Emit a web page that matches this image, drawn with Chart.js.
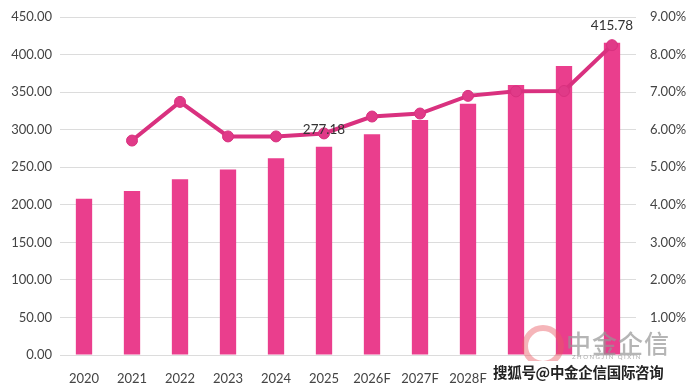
<!DOCTYPE html>
<html><head><meta charset="utf-8">
<script src="https://cdn.jsdelivr.net/npm/chart.js@4/dist/chart.umd.min.js"></script>
<style>
html,body{margin:0;padding:0;background:#fff;}
#wrap{position:relative;width:690px;height:388px;}
#c{position:absolute;left:0;top:0;}
.wm{position:absolute;font-family:"Noto Sans CJK SC",sans-serif;white-space:nowrap;}
</style></head>
<body><div id="wrap"><canvas id="c" width="690" height="388"></canvas>
<div class="wm" style="left:522px;top:325px;width:30px;height:30px;border-radius:50%;border:6px solid rgba(232,90,100,0.45);"></div>
<div class="wm" style="left:566px;top:324px;font-size:25px;color:rgba(150,150,150,0.7);font-weight:500;letter-spacing:1px;">中金企信</div>
<div class="wm" style="left:572px;top:353px;font-size:6px;color:rgba(150,150,150,0.8);font-family:Lato,sans-serif;letter-spacing:1.5px;">ZHONGJIN QIXIN</div>
<div class="wm" style="left:491px;top:361px;font-size:14.5px;line-height:22px;padding:0 4px 6px 2px;color:#222;font-weight:700;background:#fff;letter-spacing:-0.3px;text-shadow:0 0 2px #fff,0 0 2px #fff;">搜狐号@中金企信国际咨询</div>
</div>
<script>
const categories = ['2020','2021','2022','2023','2024','2025','2026F','2027F','2028F','2029F','2030F','2031F'];
const marketSize = [208, 218.4, 234, 247, 262, 277.18, 294, 313, 334.6, 359.5, 384.8, 415.78];
const growthRate = [null, 5.71, 6.74, 5.82, 5.82, 5.90, 6.35, 6.43, 6.90, 7.02, 7.03, 8.25];
const labelledBars = [5, 11];
const leftTicks = [0,50,100,150,200,250,300,350,400,450];
const rightTicks = [1,2,3,4,5,6,7,8,9];

const labelPlugin = {
  id:'barLabels',
  afterDatasetsDraw(chart){
    const ctx = chart.ctx;
    const meta = chart.getDatasetMeta(1);
    ctx.save();
    ctx.font = '13.5px Lato, sans-serif';
    ctx.fillStyle = '#333';
    ctx.textAlign = 'center';
    ctx.textBaseline = 'middle';
    labelledBars.forEach(i=>{
      const el = meta.data[i];
      ctx.fillText(marketSize[i].toFixed(2), el.x, el.y - 17);
    });
    ctx.restore();
  }
};

new Chart(document.getElementById('c'), {
  data:{
    labels: categories,
    datasets:[
      {type:'line', data: growthRate, yAxisID:'y2', borderColor:'#D9317F', backgroundColor:'#D9317F',
       borderWidth:4, pointRadius:5.5, pointBackgroundColor:'#E03A88', pointBorderColor:'#D9317F', pointBorderWidth:1, tension:0, order:0, spanGaps:false},
      {type:'bar', data: marketSize, yAxisID:'y', backgroundColor:'#EA3E8D', barPercentage:0.34, categoryPercentage:1, order:1}
    ]
  },
  options:{
    responsive:false, animation:false,
    layout:{padding:{top:17,left:0,right:0,bottom:0}},
    plugins:{legend:{display:false}, tooltip:{enabled:false}},
    scales:{
      x:{grid:{display:false}, border:{display:false},
         ticks:{color:'#444', font:{family:'Lato, sans-serif', size:13}, padding:8, maxRotation:0, autoSkip:false},
         afterFit(s){s.height=33;}},
      y:{position:'left', min:0, max:450, afterBuildTicks(s){s.ticks=leftTicks.map(v=>({value:v}));},
         grid:{color:'#dcdcdc', drawTicks:false}, border:{display:false},
         ticks:{color:'#444', font:{family:'Lato, sans-serif', size:13}, padding:8, callback:v=>Number(v).toFixed(2)},
         afterFit(s){s.width=60;}},
      y2:{position:'right', min:0, max:9, afterBuildTicks(s){s.ticks=rightTicks.map(v=>({value:v}));},
         grid:{display:false}, border:{display:false},
         ticks:{color:'#444', font:{family:'Lato, sans-serif', size:13}, padding:6, callback:v=>Number(v).toFixed(2)+'%'},
         afterFit(s){s.width=54;}}
    }
  },
  plugins:[labelPlugin]
});
</script></body></html>
